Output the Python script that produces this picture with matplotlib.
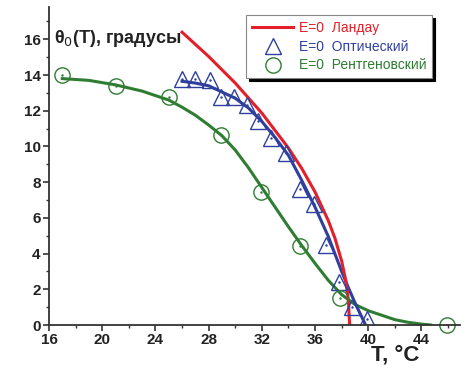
import matplotlib
matplotlib.use('Agg')
from matplotlib import pyplot as plt
from matplotlib.ticker import MultipleLocator

plt.rcParams['font.family'] = ['Liberation Sans', 'DejaVu Sans']

# Landau curve
landau_T = [26.0, 28.0, 30.0, 32.0, 34.0, 35.0, 36.0, 37.0, 37.5, 38.0, 38.3, 38.5, 38.6]
landau_theta = [16.4, 15.04, 13.55, 11.87, 9.91, 8.77, 7.45, 5.84, 4.85, 3.58, 2.53, 1.46, 0.0]

# optical data + fit
opt_T = [26.0, 27.0, 28.1, 28.9, 29.9, 30.9, 31.7, 32.7, 33.8, 34.9, 35.9, 36.8, 37.8, 38.8, 39.9]
opt_theta = [13.8, 13.75, 13.7, 12.75, 12.75, 12.3, 11.45, 10.5, 9.65, 7.6, 6.8, 4.5, 2.4, 1.0, 0.35]
opt_fit_T = [26.0, 27.0, 28.0, 29.0, 30.0, 31.0, 32.0, 33.0, 34.0, 35.0, 36.0, 37.0, 38.0, 38.5, 39.0, 39.8]
opt_fit_theta = [13.65, 13.55, 13.4, 13.05, 12.7, 12.15, 11.4, 10.5, 9.5, 8.1, 6.6, 4.95, 3.0, 2.1, 1.25, 0.0]

# X-ray data + fit
xr_T = [17.0, 21.0, 25.0, 28.9, 31.9, 34.9, 37.9, 45.9]
xr_theta = [14.0, 13.4, 12.75, 10.65, 7.45, 4.4, 1.5, 0.0]
xr_fit_T = [17, 19, 21, 23, 25, 26, 27, 28, 29, 30, 31, 32, 33, 34, 35, 36, 37, 38, 39, 40,
            41, 42, 43, 44, 44.7]
xr_fit_theta = [13.8, 13.7, 13.45, 13.1, 12.6, 12.2, 11.75, 11.2, 10.6, 9.8, 8.8, 7.7, 6.6,
                5.5, 4.45, 3.45, 2.5, 1.7, 1.15, 0.8, 0.55, 0.3, 0.15, 0.05, 0.0]

red = '#e3202a'
blue = '#2e3f9e'
green = '#2f7d32'

fig = plt.figure(figsize=(4.73, 3.78), dpi=100)
ax = fig.add_axes([0.1036, 0.1402, 0.869, 0.8408])

ax.plot(xr_fit_T, xr_fit_theta, c=green, lw=2.2)
ax.plot(opt_fit_T, opt_fit_theta, c=blue, lw=2.2)
ax.plot(landau_T, landau_theta, c=red, lw=2.2, label='E=0  Ландау')
ax.plot(opt_T, opt_theta, ls='none', marker='^', ms=11, mfc='none', mec=blue, mew=1.0,
        label='E=0  Оптический')
ax.plot(opt_T, opt_theta, ls='none', marker='.', ms=1.5, c=blue)
ax.plot(xr_T, xr_theta, ls='none', marker='o', ms=11, mfc='none', mec=green, mew=1.0,
        label='E=0  Рентгеновский', clip_on=False)
ax.plot(xr_T, xr_theta, ls='none', marker='.', ms=1.5, c=green)

ax.set_xlim(16, 46.9)
ax.set_ylim(0, 17.8)
ax.spines['top'].set_visible(False)
ax.spines['right'].set_visible(False)
for s in ['left', 'bottom']:
    ax.spines[s].set_linewidth(1.3)
    ax.spines[s].set_color('#333333')
ax.xaxis.set_major_locator(MultipleLocator(4))
ax.xaxis.set_minor_locator(MultipleLocator(2))
ax.yaxis.set_major_locator(MultipleLocator(2))
ax.yaxis.set_minor_locator(MultipleLocator(1))
ax.tick_params(which='major', direction='out', length=4, width=1.2, color='#333333',
               labelsize=11, pad=2)
ax.tick_params(which='minor', direction='out', length=2.5, width=1, color='#333333')
for lab in ax.get_xticklabels() + ax.get_yticklabels():
    lab.set_fontweight('bold')
    lab.set_color('#222222')

ax.text(0.012, 0.9, r'θ$_0$(T), градусы', transform=ax.transAxes, fontsize=13,
        fontweight='bold', color='#222222', va='center')
fig.text(0.835, 0.06, 'T, °C', fontsize=16, fontweight='bold', color='#222222', ha='center',
         va='center')

leg = ax.legend(loc='upper right', bbox_to_anchor=(0.932, 0.975), borderaxespad=0, fontsize=10,
                frameon=True, fancybox=False, shadow={'color': 'black', 'alpha': 1},
                handlelength=3, borderpad=0.4, labelspacing=0.35, handletextpad=0.4)
leg.get_frame().set_edgecolor('#888888')
leg.get_frame().set_linewidth(0.8)
for t, c in zip(leg.get_texts(), [red, blue, green]):
    t.set_color(c)

fig.savefig('out.png', dpi=100)
